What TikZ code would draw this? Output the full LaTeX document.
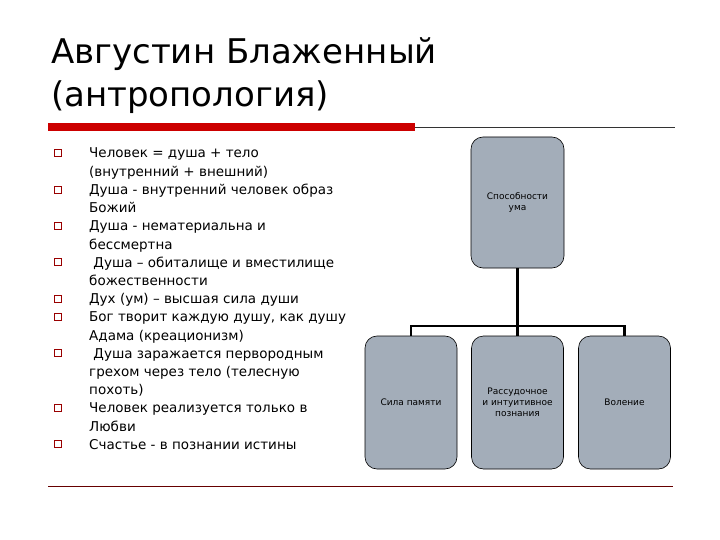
\documentclass[tikz,border=0pt]{standalone}
\usepackage{fontspec}
\setmainfont{DejaVu Sans}
\begin{document}
\begin{tikzpicture}[x=1pt,y=-1pt,
  bx/.style={draw=black,fill=boxc,rounded corners=12pt,line width=0.6pt,align=center,font=\fontsize{9}{11}\selectfont,inner sep=0pt},
  ln/.style={anchor=base west,font=\fontsize{13.5}{15}\selectfont,inner sep=0pt},
  bul/.style={draw=red!60!black,line width=0.5pt,minimum size=7pt,inner sep=0pt}]
\definecolor{boxc}{RGB}{163,173,185}
\useasboundingbox (0,0) rectangle (720,540);
\fill[white] (0,0) rectangle (720,540);
\node[anchor=base west,font=\fontsize{34}{36}\selectfont,inner sep=0pt] (t1) at (51,64) {Августин Блаженный};
\node[anchor=base west,font=\fontsize{34}{36}\selectfont,inner sep=0pt] (t2) at (51,107) {(антропология)};
\fill[red!80!black] (48,123) rectangle (415,131);
\draw[line width=0.6pt,black!80] (415,127) -- (675,127);
\draw[line width=0.8pt,red!40!black] (48,486) -- (673,486);
\foreach \t [count=\i] in {Человек = душа + тело,(внутренний + внешний),Душа - внутренний человек образ,Божий,Душа - нематериальна и,бессмертна,{\ Душа – обиталище и вместилище},божественности,Дух (ум) – высшая сила души,{Бог творит каждую душу, как душу},Адама (креационизм),{\ Душа заражается первородным},грехом через тело (телесную,похоть),Человек реализуется только в,Любви,Счастье - в познании истины}
  \node[ln] (l\i) at (89,{158+(\i-1)*18.2}) {\t};
\foreach \i in {1,3,5,7,9,10,12,15,17}
  \node[bul] (b\i) at (58,{153+(\i-1)*18.2}) {};
\node[bx,minimum width=93pt,minimum height=131pt] (top) at (517.5,202.5) {Способности\\ума};
\node[bx,minimum width=92pt,minimum height=133pt] (m1) at (411,402.5) {Сила памяти};
\node[bx,minimum width=92pt,minimum height=133pt] (m2) at (517.5,402.5) {Рассудочное\\и интуитивное\\познания};
\node[bx,minimum width=92pt,minimum height=133pt] (m3) at (624.5,402.5) {Воление};
\coordinate (j) at (517.5,326);
\draw[line width=2.4pt] (top.south) -- (j);
\draw[line width=2.4pt] (m1.north) |- (j) -| (m3.north);
\draw[line width=2.4pt] (j) -- (m2.north);
\end{tikzpicture}
\end{document}
